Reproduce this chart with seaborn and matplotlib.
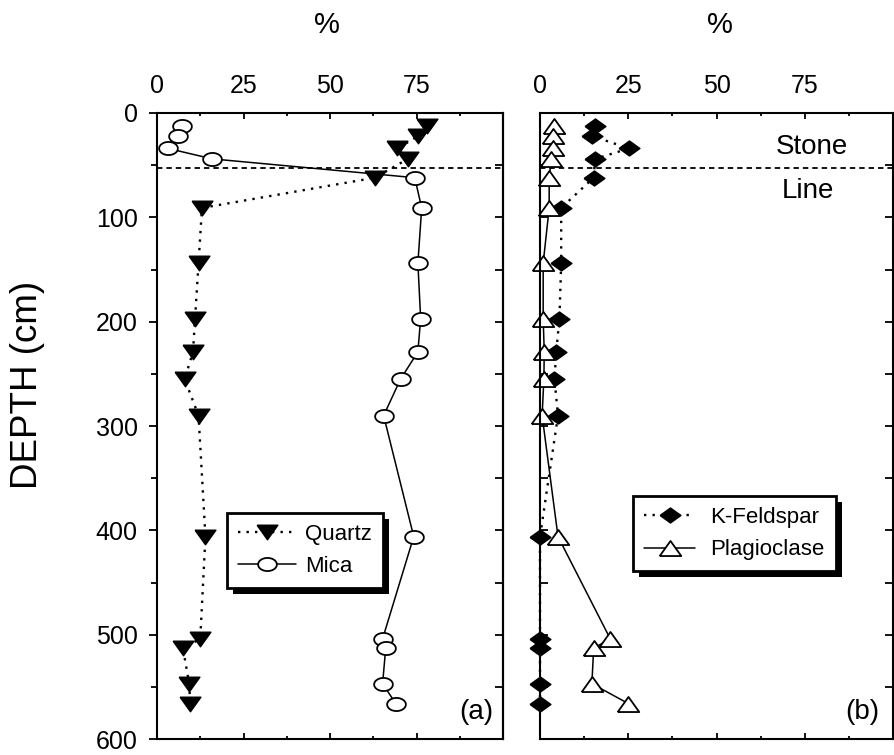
import numpy as np
import pandas as pd
import matplotlib
matplotlib.use("Agg")
import matplotlib.pyplot as plt
from matplotlib.ticker import MultipleLocator
from matplotlib.patches import Rectangle
import seaborn as sns

# Sample depths (cm) and mineral contents (%) of the soil profile
depth = [12, 22, 34, 44, 62, 91, 144, 197, 229, 255, 290, 406, 504, 513, 547, 566]
quartz = [78, 75.5, 69.5, 72.5, 63, 13, 12, 11, 10.4, 8, 12, 14, 12.5, 7.5, 9.3, 9.6]
mica = [7.2, 6.1, 3.2, 16, 74.5, 76.5, 75.4, 76.2, 75.4, 70.4, 65.5, 74.2, 65.2, 66.1, 65.2, 69]
kfeldspar = [15.6, 14.7, 25.2, 15.6, 15.2, 6, 6, 5.5, 4.6, 4.1, 5.1, 0, 0, 0, 0, 0]
plagioclase = [4, 3.7, 3.7, 3.2, 2.6, 2.6, 0.9, 0.9, 1.2, 1.1, 0.6, 5.1, 19.9, 15.2, 14.7, 25]

stone_line_depth = 53
x_ticks = [0, 25, 50, 75]
y_ticks = [0, 100, 200, 300, 400, 500, 600]

sns.set_theme(style="ticks", rc={
    "axes.edgecolor": "black",
    "xtick.color": "black",
    "ytick.color": "black",
    "text.color": "black",
    "axes.labelcolor": "black",
})
plt.rcParams["font.family"] = ["Liberation Sans", "DejaVu Sans"]

df = pd.DataFrame({"depth": depth, "Quartz": quartz, "Mica": mica,
                   "K-Feldspar": kfeldspar, "Plagioclase": plagioclase})

# Markers slightly wider than tall
tri_down = [(-1, 0.7), (1, 0.7), (0, -0.7), (-1, 0.7)]
tri_up = [(-1, -0.7), (1, -0.7), (0, 0.7), (-1, -0.7)]
diamond = [(-1, 0), (0, 0.72), (1, 0), (0, -0.72), (-1, 0)]
t = np.linspace(0, 2 * np.pi, 41)
ellipse = list(zip(np.cos(t), 0.7 * np.sin(t)))

dotted = (0, (1.0, 2.6))

fig = plt.figure(figsize=(8.94, 7.55), dpi=100)
ax_a = fig.add_axes([157 / 894, 16 / 755, 346 / 894, 626 / 755])
ax_b = fig.add_axes([540 / 894, 16 / 755, 353 / 894, 626 / 755])

common = dict(orient="y", sort=False, estimator=None, color="black", clip_on=False)

sns.lineplot(data=df, x="Quartz", y="depth", ax=ax_a, linestyle=dotted, linewidth=1.7,
             marker=tri_down, markersize=15, markerfacecolor="black",
             markeredgecolor="black", markeredgewidth=1, **common)
sns.lineplot(data=df, x="Mica", y="depth", ax=ax_a, linestyle="-", linewidth=1.1,
             marker=ellipse, markersize=13.5, markerfacecolor="white",
             markeredgecolor="black", markeredgewidth=1.3, **common)
sns.lineplot(data=df, x="K-Feldspar", y="depth", ax=ax_b, linestyle=dotted, linewidth=1.7,
             marker=diamond, markersize=15, markerfacecolor="black",
             markeredgecolor="black", markeredgewidth=1, **common)
sns.lineplot(data=df, x="Plagioclase", y="depth", ax=ax_b, linestyle="-", linewidth=1.1,
             marker=tri_up, markersize=15.5, markerfacecolor="white",
             markeredgecolor="black", markeredgewidth=1.3, **common)

handles_a = list(ax_a.get_lines())
handles_b = list(ax_b.get_lines())

for ax in (ax_a, ax_b):
    ax.axhline(stone_line_depth, color="black", linewidth=1.3, linestyle=(0, (3.0, 2.2)), zorder=1)
    ax.set_xlim(0, 100)
    ax.set_ylim(600, 0)
    ax.set_xlabel("")
    ax.set_ylabel("")
    ax.set_xticks(x_ticks)
    ax.xaxis.set_minor_locator(MultipleLocator(12.5))
    ax.set_yticks(y_ticks)
    ax.yaxis.set_minor_locator(MultipleLocator(50))
    ax.tick_params(axis="x", which="both", direction="in", top=True, bottom=True,
                   labeltop=True, labelbottom=False, labelsize=18, pad=11, width=1.3)
    ax.tick_params(axis="x", which="major", length=4.5)
    ax.tick_params(axis="x", which="minor", length=2.3)
    for s in ax.spines.values():
        s.set_linewidth(1.5)
        s.set_visible(True)

# Left panel: labelled outward ticks on the left, inward ticks on the right
ax_a.tick_params(axis="y", which="both", direction="out", left=True, right=False,
                 labelleft=True, labelsize=18, pad=8, width=1.3)
ax_a.tick_params(axis="y", which="major", length=6)
ax_a.tick_params(axis="y", which="minor", length=4)
sec = ax_a.secondary_yaxis("right")
sec.yaxis.set_major_locator(MultipleLocator(50))
sec.tick_params(axis="y", which="both", direction="in", length=5.5, width=1.3, labelright=False)
sec.spines["right"].set_linewidth(1.5)

# Right panel: inward ticks on both sides, no labels
ax_b.tick_params(axis="y", which="both", direction="in", left=True, right=True,
                 labelleft=False, labelright=False, width=1.3)
ax_b.tick_params(axis="y", which="major", length=5.5)
ax_b.tick_params(axis="y", which="minor", length=5.5)

ax_a.text(0.49, 1.14, "%", transform=ax_a.transAxes, ha="center", va="center", fontsize=21)
ax_b.text(0.51, 1.14, "%", transform=ax_b.transAxes, ha="center", va="center", fontsize=21)
fig.text(28 / 894, 1 - 385 / 755, "DEPTH (cm)", rotation=90, ha="center", va="center", fontsize=26.5)

ax_b.text(77, 33, "Stone", ha="center", va="center", fontsize=20)
ax_b.text(76, 75, "Line", ha="center", va="center", fontsize=20)
ax_a.text(0.922, 0.043, "(a)", transform=ax_a.transAxes, ha="center", va="center", fontsize=20)
ax_b.text(0.912, 0.043, "(b)", transform=ax_b.transAxes, ha="center", va="center", fontsize=20)

leg_style = dict(loc="upper left", frameon=True, fancybox=False, edgecolor="black",
                 framealpha=1, fontsize=16, borderpad=0.5,
                 labelspacing=0.5, borderaxespad=0, numpoints=1)
leg_a = ax_a.legend(handles_a, ["Quartz", "Mica"], bbox_to_anchor=(0.202, 0.361),
                    handlelength=2.6, handletextpad=0.4, **leg_style)
leg_b = ax_b.legend(handles_b, ["K-Feldspar", "Plagioclase"], bbox_to_anchor=(0.263, 0.388),
                    handlelength=2.3, handletextpad=0.7, **leg_style)

# Solid drop shadow behind each legend box
fig.canvas.draw()
for ax, leg in ((ax_a, leg_a), (ax_b, leg_b)):
    leg.get_frame().set_linewidth(2)
    bb = leg.get_window_extent()
    off = 6
    inv = ax.transAxes.inverted()
    (x0, y0) = inv.transform((bb.x0 + off, bb.y0 - off))
    (x1, y1) = inv.transform((bb.x1 + off, bb.y1 - off))
    ax.add_patch(Rectangle((x0, y0), x1 - x0, y1 - y0, transform=ax.transAxes,
                           facecolor="black", edgecolor="none", zorder=4.9, clip_on=False))

fig.savefig("out.png", dpi=100)
